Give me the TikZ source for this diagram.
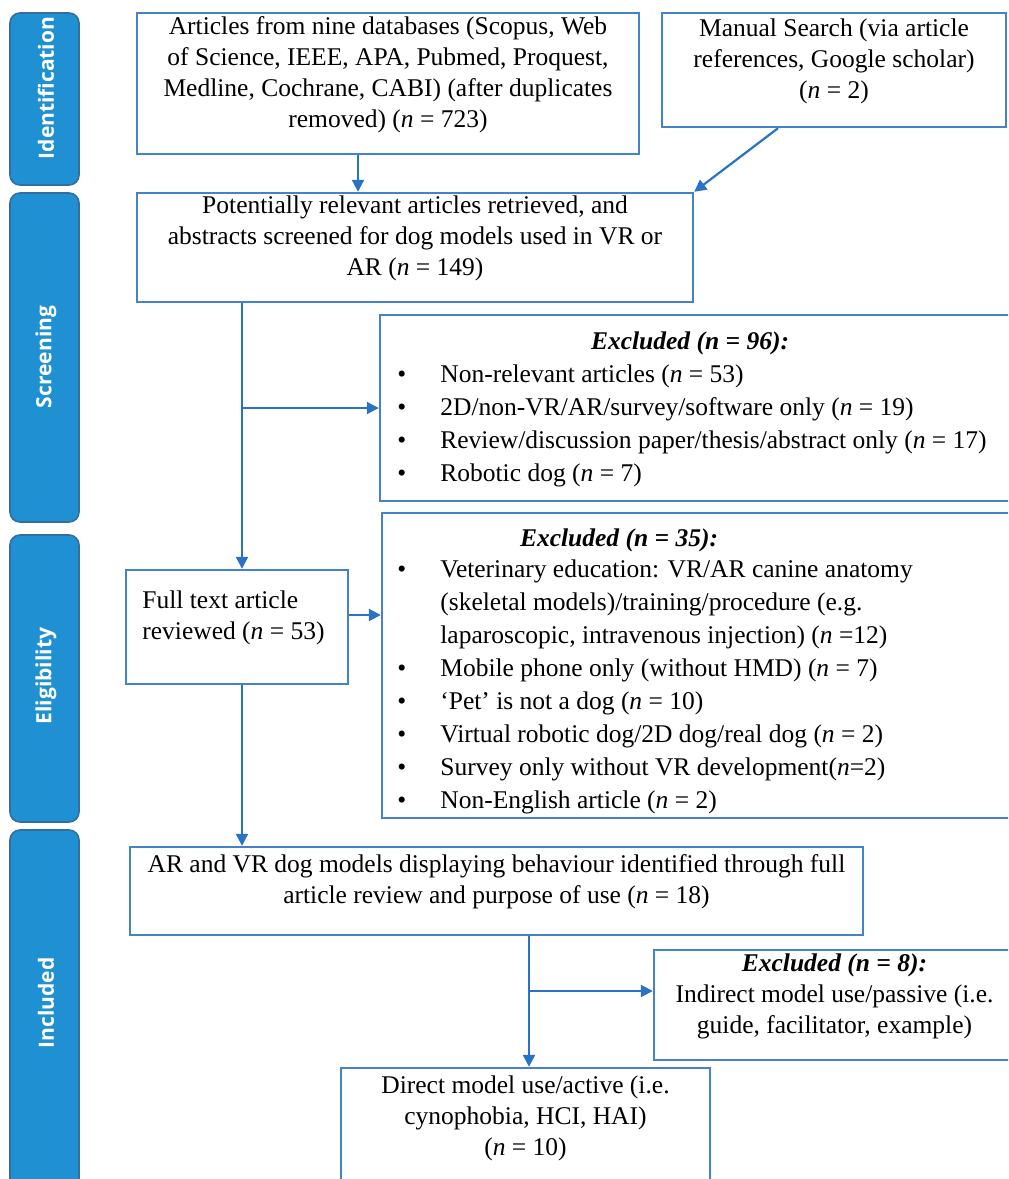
\documentclass[tikz,border=0pt]{standalone}
\usepackage{fontspec}
\setmainfont{Liberation Serif}
\newfontfamily\barfont{Open Sans}
\usetikzlibrary{arrows.meta,fit}
\definecolor{barfill}{RGB}{31,145,211}
\definecolor{barline}{RGB}{52,110,160}
\definecolor{boxline}{RGB}{70,130,200}
\definecolor{arrowline}{RGB}{40,115,200}
\newcommand\bul{\makebox[21.5pt][l]{\textbullet}}
\newcommand\ind{\hspace*{21.5pt}}

\begin{document}
\begin{tikzpicture}[x=0.5pt,y=-0.5pt,
  box/.style={draw=boxline, line width=1.2pt, inner sep=0pt, align=center,
    font=\fontsize{12.75}{15.5}\selectfont},
  bar/.style={draw=barline, fill=barfill, line width=0.8pt, rounded corners=5pt, inner sep=0pt},
  barlabel/.style={rotate=90, text=white, inner sep=0pt,
    font=\barfont\bfseries\fontsize{10.5}{12}\selectfont},
  flow/.style={draw=arrowline, line width=1.1pt, -{Triangle[length=6pt,width=6pt]}},
  txt/.style={inner sep=0pt, font=\fontsize{12.75}{15.5}\selectfont},
  lst/.style={inner sep=0pt, align=left, font=\fontsize{12.75}{16.5}\selectfont},
]
\useasboundingbox (0,0) rectangle (1008,1179);
\fill[white] (0,0) rectangle (1008,1179);
\clip (0,0) rectangle (1008,1179);

% stage bars on the left
\node[bar, fit={(10,13) (79,185)}] (idbar) {};
\node[barlabel] (idlbl) at (46,88) {Identification};
\node[bar, fit={(10,193) (79,522)}] (scbar) {};
\node[barlabel] (sclbl) at (46,357) {Screening};
\node[bar, fit={(10,535) (79,822)}] (elbar) {};
\node[barlabel] (ellbl) at (46,676) {Eligibility};
\node[bar, fit={(10,830) (79,1195)}] (inbar) {};
\node[barlabel] (inlbl) at (46,1003) {Included};

% identification
\node[box, fit={(137,13) (639,154)}] (A)
  {Articles from nine databases (Scopus, Web\\
   of Science, IEEE, APA, Pubmed, Proquest,\\
   Medline, Cochrane, CABI) (after duplicates\\
   removed) (\textit{n} = 723)};
\node[box, fit={(662,13) (1006,127)}] (B)
  {Manual Search (via article\\
   references, Google scholar)\\
   (\textit{n} = 2)};

% screening
\node[box, fit={(137,193) (693,302)}] (C)
  {Potentially relevant articles retrieved, and\\
   abstracts screened for dog models used in VR or\\
   AR (\textit{n} = 149)};
\node[box, fit={(380,315) (1015,501)}] (D) {};
\node[txt] (Dtitle) at (690,343) {\textbf{\textit{Excluded (n = 96):}}};
\node[lst, anchor=west] (Dlist) at (397,425.5)
  {\bul Non-relevant articles (\textit{n} = 53)\\
   \bul 2D/non-VR/AR/survey/software only (\textit{n} = 19)\\
   \bul Review/discussion paper/thesis/abstract only (\textit{n} = 17)\\
   \bul Robotic dog (\textit{n} = 7)};

% eligibility
\node[box, fit={(126,570) (348,684)}] (F) {};
\node[txt, anchor=west, align=left] (Ftext) at (142,617.5)
  {Full text article\\reviewed (\textit{n} = 53)};
\node[box, fit={(382,513) (1015,818)}] (E) {};
\node[txt] (Etitle) at (619,540) {\textbf{\textit{Excluded (n = 35):}}};
\begin{scope}
  \clip (E.north west) rectangle (E.south east);
  \node[lst, anchor=west] (Elist) at (397,687)
    {\bul Veterinary education: VR/AR canine anatomy\\
     \ind (skeletal models)/training/procedure (e.g.\\
     \ind laparoscopic, intravenous injection) (\textit{n} =12)\\
     \bul Mobile phone only (without HMD) (\textit{n} = 7)\\
     \bul `Pet' is not a dog (\textit{n} = 10)\\
     \bul Virtual robotic dog/2D dog/real dog (\textit{n} = 2)\\
     \bul Survey only without VR development(\textit{n}=2)\\
     \bul Non-English article (\textit{n} = 2)};
\end{scope}

% included
\node[box, fit={(130,847) (863,935)}] (G)
  {AR and VR dog models displaying behaviour identified through full\\
   article review and purpose of use (\textit{n} = 18)};
\node[box, fit={(654,950) (1015,1060)}] (H)
  {\textbf{\textit{Excluded (n = 8):}}\\
   Indirect model use/passive (i.e.\\
   guide, facilitator, example)};
\node[box, fit={(341,1068) (710,1186)}] (I)
  {Direct model use/active (i.e.\\
   cynophobia, HCI, HAI)\\
   (\textit{n} = 10)};

% connector positions
\coordinate (xa) at (358,0);
\coordinate (xb) at (778,0);
\coordinate (xm) at (242,0);
\coordinate (xg) at (529,0);
\coordinate (yfe) at (0,615);
\coordinate (ygh) at (0,991);

\draw[flow] (A.south -| xa) -- (C.north -| xa);
\draw[flow] (B.south -| xb) -- (C.north east);
\draw[flow] (C.south -| xm) -- (F.north -| xm);
\draw[flow] (D.west -| xm) -- (D.west);
\draw[flow] (F.east |- yfe) -- (E.west |- yfe);
\draw[flow] (F.south -| xm) -- (G.north -| xm);
\draw[flow] (G.south -| xg) -- (I.north -| xg);
\draw[flow] (ygh -| xg) -- (H.west |- ygh);
\end{tikzpicture}
\end{document}
